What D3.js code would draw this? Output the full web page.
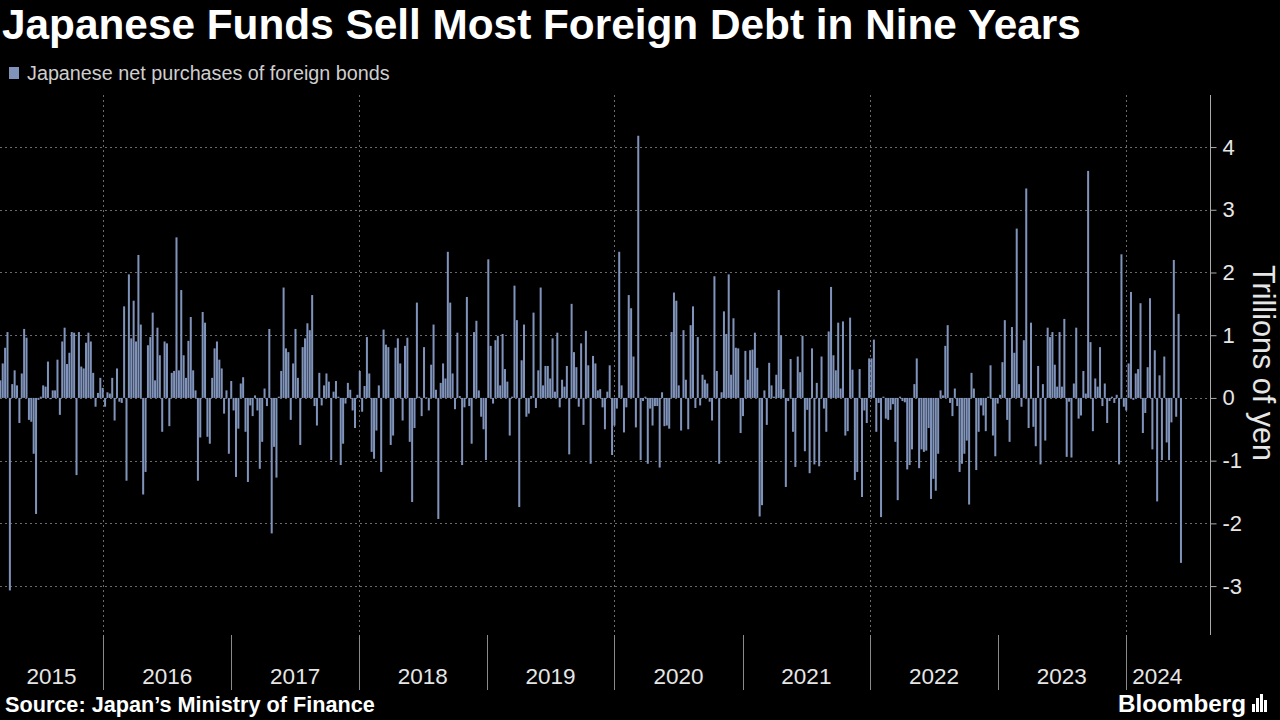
<!DOCTYPE html>
<html>
<head>
<meta charset="utf-8">
<script src="https://cdn.jsdelivr.net/npm/d3@7"></script>
<style>
  html, body { margin: 0; padding: 0; background: #000; }
  svg { display: block; }
  text { font-family: "Liberation Sans", Arial, sans-serif; }
</style>
</head>
<body>
<svg id="chart" width="1280" height="720"></svg>
<script>
// ---- Data (weekly, trillions of yen) ----
const title = "Japanese Funds Sell Most Foreign Debt in Nine Years";
const seriesName = "Japanese net purchases of foreign bonds";
const source = "Source: Japan\u2019s Ministry of Finance";
const axisTitle = "Trillions of yen";
const firstWeek = "2015-03-13";
const lastWeek = "2024-06-07";

const values = [
  0.28, 0.55, 0.8, 1.05, -3.07, 0.22, 0.44, 0.2, -0.4, 0.39, 1.1, 0.96, -0.35, -0.38, -0.89, -1.85, -0.03, 0.02, 0.2, 0.18, 0.58, -0.02, 0.12, 0.12, 0.61, -0.27, 0.9, 1.12, 0.54, 0.72, 1.05, 1.04, -1.23, 1.05, 0.5, 0.47, 0.88, 1.04, 0.9, 0.4, -0.14, 0.08, 0.32,
  0.16, -0.14, 0.09, 0.07, 0.32, -0.36, 0.47, -0.06, -0.08, 1.46, -1.32, 1.97, 0.95, 1.55, 0.9, 2.28, 1.17, -1.54, -1.18, 0.84, 0.97, 1.36, 0.28, 1.12, 0.68, -0.54, 0.9, 0.87, -0.45, 0.4, 0.43, 2.56, 0.44, 1.72, 0.68, 0.32, 0.91, 1.29, 0.44, 0.12, -1.32, -0.63, 1.37, 1.2,
  -0.62, -0.73, 0.32, 0.79, 0.9, 0.61, 0.47, -0.25, 0.12, -0.89, 0.27, -0.2, -1.26, -0.49, 0.23, 0.33, -0.54, -1.34, -0.12, -0.29, 0.04, -0.2, -1.13, -0.7, 0.15, -0.13, 1.1, -2.16, -0.78, -1.27, 0.02, 0.43, 1.76, 0.79, 0.73, -0.35, 0.55, 1.1, 0.32, -0.75, 0.81,
  0.95, 1.19, 1.08, 1.64, -0.13, -0.44, 0.4, -0.12, 0.2, 0.39, 0.26, -0.99, 0.1, 0.27, 0.02, -1.07, -0.73, -0.09, 0.24, 0.13, -0.2, -0.48, 0.05, 0.43, -0.22, 0.19, 0.97, 0.39, -0.86, -0.97, -0.52, 0.2, -1.18, 1.09, 0.85, 0.81, -0.75, -0.6, 0.8, 0.95,
  0.55, -0.36, 0.83, 0.96, -0.7, -1.66, -0.48, 1.52, 0.02, -0.29, 0.81, 0.01, -0.2, 0.53, 1.17, 0.13, -1.93, 0.24, 0.55, 0.31, 2.33, 1.52, 0.39, -0.18, 1.04, 0.03, -1.07, -0.15, 1.61, -0.13, -0.73, 1.05, 1.23, 0.12, -0.3, -0.5, -0.99, 2.21, 0.83, -0.09, 0.92,
  0.99, 0.2, 1.02, 0.46, 0.26, -0.6, 0.02, 1.79, 1.24, -1.74, 0.6, 1.17, -0.3, -0.25, 0.03, 1.36, -0.16, 0.44, 1.76, 0.2, 0.51, 0.51, 0.31, 0.95, 0.1, 1.04, -0.15, 0.29, 0.18, 0.51, -0.9, 1.5, 0.73, 0.49, -0.14, 0.87, -0.43, 1.07, 0.52, -1.05, 0.67, 0.55, 0.12,
  0.14, -0.15, -0.5, 0.1, 0.52, -0.91, -0.44, -0.17, 2.33, 0.2, -0.55, -0.15, 1.64, 1.43, 0.66, -0.47, 4.18, -0.99, -0.05, 0.02, -1.05, -0.17, -0.44, -0.13, -0.13, -1.11, 0.09, -0.45, -0.44, -0.49, 1.05, 1.68, 1.55, 0.2, -0.52, 1.08, 0.29, -0.5, 1.16, 1.46, -0.16, 0.97, -0.12,
  0.37, 0.29, 0.23, -0.06, -0.36, 1.94, 0.43, -1.05, 0.09, 1.38, 1.02, 1.97, 0.37, 1.27, 0.8, 0.79, -0.56, -0.29, 0.75, 0.29, 0.76, 0.77, 1.04, 0.48, -1.89, -1.71, 0.12, -0.43, 0.56, 0.2, 0.02, 0.37, 1.72, 1.0, 0.14, -1.42, -0.05, 0.62, -0.54, -1.1, 0.66, 0.41,
  0.99, -0.85, -0.19, -1.2, 0.79, -1.06, 0.24, -1.09, 0.66, -0.17, -0.54, 1.06, 1.77, 0.68, 0.44, 1.2, 0.15, 1.22, -0.6, -0.53, 1.28, 0.45, -1.31, -1.18, 0.46, -1.58, -0.2, -0.4, 0.63, 0.63, 0.93, -0.54, -0.08, -1.9, 0.02, -0.33, -0.35, -0.19, -0.1, -0.7,
  -1.63, 0.02, -0.05, -0.07, -1.14, -1.07, -0.82, 0.22, 0.63, -1.12, -0.82, -0.86, -0.84, -0.48, -1.61, -1.29, -1.48, -0.89, 0.12, 0.04, 0.83, 1.16, -0.08, -0.29, 0.15, -0.13, -1.18, -1.05, -0.89, -0.68, -1.7, 0.4, 0.15, -1.15, -0.54, -0.12, -0.28, -0.53, 0.02, 0.52, -0.6, -0.93, -0.09, 0.05, 0.57,
  1.24, -0.35, -0.7, 1.13, 0.72, 2.7, 0.22, -0.14, 0.92, 3.34, -0.48, 1.2, -0.46, -0.77, 0.51, -1.06, 0.22, -0.68, 1.12, 0.97, 1.05, 0.53, 0.18, 1.05, 0.18, 1.26, -0.94, -0.06, -0.95, 0.23, 1.12, -0.33, -0.28, 0.43, 0.07, 3.62, 0.89, -0.53, 0.31, 0.18, 0.81, -0.13,
  0.23, -0.4, -0.05, 0.02, -0.08, 0.05, -1.06, 2.29, -0.14, -0.2, 0.55, 1.69, -0.03, 0.39, 0.46, 1.51, -0.56, -0.24, 0.49, 1.59, -0.82, 0.76, -1.65, 0.36, -0.99, 0.66, -0.71, -0.99, -0.39, 2.2, -0.3, 1.34, -2.63
];

const yearLabels = ["2015", "2016", "2017", "2018", "2019", "2020", "2021", "2022", "2023", "2024"];
const yTickValues = [-3, -2, -1, 0, 1, 2, 3, 4];
const gridYears = ["2016", "2018", "2020", "2022", "2024"];

// ---- Layout ----
const svg = d3.select("#chart");
const plot = { left: 0, right: 1210, top: 95, bottom: 635 };
const barColor = "#8094bb";

svg.append("rect").attr("width", 1280).attr("height", 720).attr("fill", "#000");

const parse = d3.utcParse("%Y-%m-%d");
const x = d3.scaleUtc()
  .domain([parse("2015-03-12"), parse("2024-08-29")])
  .range([plot.left, plot.right]);
const xi = d3.scaleLinear()
  .domain([0, values.length - 1])
  .range([x(parse(firstWeek)), x(parse(lastWeek))]);
const y = d3.scaleLinear().domain([-3.78, 4.83]).range([plot.bottom, plot.top]);

// Horizontal dotted grid
svg.append("g").selectAll("line").data(yTickValues).join("line")
  .attr("x1", plot.left).attr("x2", plot.right)
  .attr("y1", d => Math.round(y(d)) + 0.5).attr("y2", d => Math.round(y(d)) + 0.5)
  .attr("stroke", "#6a6a6a").attr("stroke-width", 1).attr("stroke-dasharray", "2,3");

// Vertical dotted grid (every two years)
svg.append("g").selectAll("line").data(gridYears).join("line")
  .attr("x1", d => Math.round(x(parse(d + "-01-01"))) + 0.5)
  .attr("x2", d => Math.round(x(parse(d + "-01-01"))) + 0.5)
  .attr("y1", plot.top).attr("y2", plot.bottom)
  .attr("stroke", "#6a6a6a").attr("stroke-width", 1).attr("stroke-dasharray", "2,3");

// Bars
const bw = 2;
svg.append("g").selectAll("rect").data(values).join("rect")
  .attr("x", (d, i) => xi(i) - bw / 2)
  .attr("width", bw)
  .attr("y", d => y(Math.max(0, d)))
  .attr("height", d => Math.abs(y(d) - y(0)))
  .attr("fill", barColor);

// Right axis
const yAxis = d3.axisRight(y).tickValues(yTickValues).tickSize(6).tickPadding(6)
  .tickFormat(d => d < 0 ? "-" + Math.abs(d) : String(d));
const ya = svg.append("g").attr("transform", `translate(${plot.right + 0.5},0)`).call(yAxis);
ya.select(".domain").attr("stroke", "#aaa").attr("d", `M0,${plot.top}V${plot.bottom}`);
ya.selectAll(".tick line").attr("stroke", "#aaa");
ya.selectAll(".tick text").attr("fill", "#e6e6e6").attr("font-size", 22)
  .attr("font-family", "Liberation Sans, Arial, sans-serif");

const at = svg.append("text")
  .attr("transform", `translate(1253,${(plot.top + plot.bottom) / 2 - 2}) rotate(90)`)
  .attr("text-anchor", "middle")
  .attr("fill", "#e6e6e6").attr("font-size", 26)
  .text(axisTitle);

// Bottom year separators and labels
const lastX = x(parse(lastWeek)) + 8;
const yearStarts = yearLabels.map(yr => parse(yr + "-01-01"));
svg.append("g").selectAll("line").data(yearStarts.slice(1)).join("line")
  .attr("x1", d => Math.round(x(d)) + 0.5).attr("x2", d => Math.round(x(d)) + 0.5)
  .attr("y1", plot.bottom).attr("y2", 690)
  .attr("stroke", "#8a8a8a").attr("stroke-width", 1);

svg.append("g").selectAll("text").data(yearLabels).join("text")
  .attr("x", (d, i) => {
    const a = Math.max(x(yearStarts[i]), plot.left);
    const b = i < yearLabels.length - 1 ? x(yearStarts[i + 1]) : lastX;
    return (a + b) / 2;
  })
  .attr("y", 684)
  .attr("text-anchor", "middle")
  .attr("fill", "#e6e6e6").attr("font-size", 22.5)
  .text(d => d);

// Title
function fitText(sel, width) {
  const w = sel.node().getComputedTextLength();
  const fs = parseFloat(sel.attr("font-size"));
  sel.attr("font-size", fs * width / w);
}
const t = svg.append("text").attr("x", 2).attr("y", 39)
  .attr("fill", "#fff").attr("font-weight", "bold").attr("font-size", 38)
  .text(title);
fitText(t, 1079);
fitText(at, 196);

// Legend
svg.append("rect").attr("x", 9).attr("y", 67).attr("width", 10).attr("height", 12).attr("fill", barColor);
const lg = svg.append("text").attr("x", 27).attr("y", 80)
  .attr("fill", "#cfcfcf").attr("font-size", 17).text(seriesName);
fitText(lg, 363);

// Footer
const src = svg.append("text").attr("x", 5).attr("y", 712)
  .attr("fill", "#fff").attr("font-weight", "bold").attr("font-size", 19).text(source);
fitText(src, 370);

const bb = svg.append("text").attr("x", 1118).attr("y", 712)
  .attr("fill", "#fff").attr("font-weight", "bold").attr("font-size", 26).text("Bloomberg");
fitText(bb, 128);

// small logo mark
const logo = svg.append("g").attr("transform", "translate(1252,694)");
[[0, 10, 3], [4, 4, 3], [8, 0, 3], [12, 6, 3]].forEach(([dx, dy, w]) => {
  logo.append("rect").attr("x", dx).attr("y", dy).attr("width", w).attr("height", 18 - dy).attr("fill", "#fff");
});
</script>
</body>
</html>
